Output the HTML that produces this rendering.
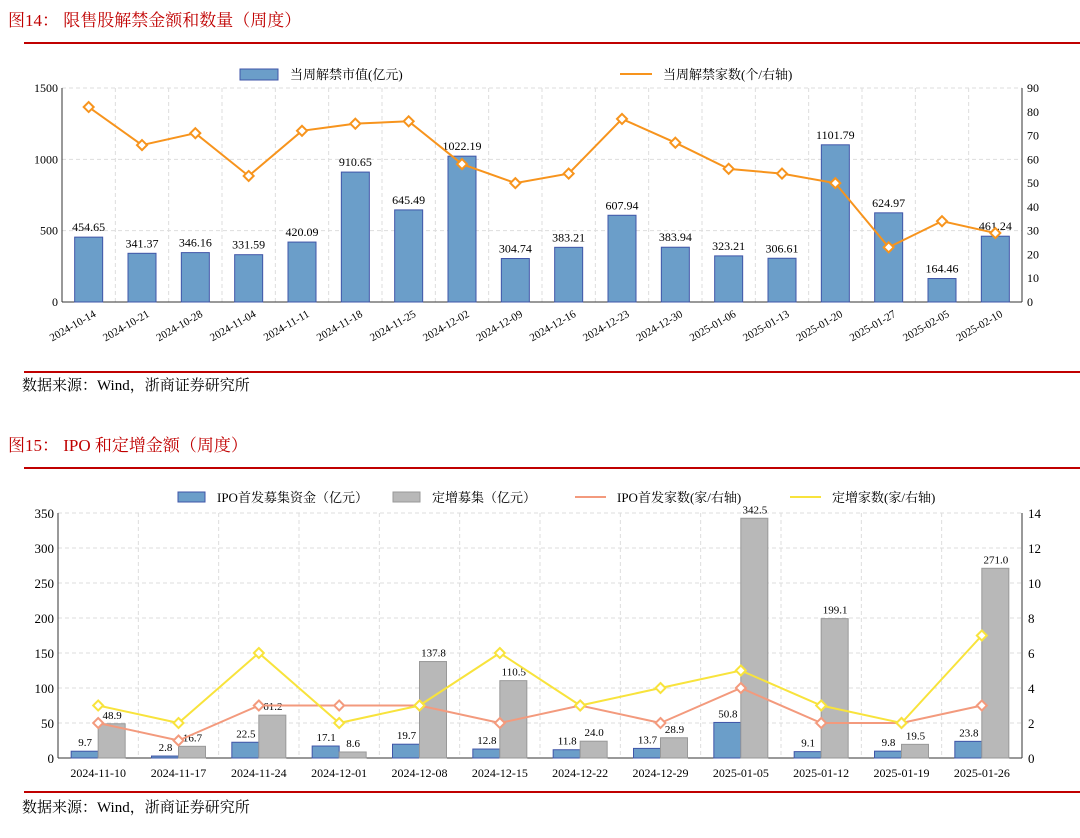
<!DOCTYPE html>
<html><head><meta charset="utf-8"><style>
body{margin:0;background:#fff;width:1080px;height:833px;overflow:hidden;font-family:"Liberation Serif","Noto Serif CJK SC",serif}
svg text{font-family:"Liberation Serif","Noto Serif CJK SC",serif}
</style></head><body>
<svg id="s" width="1080" height="833">
<text x="8" y="26" font-size="17" fill="#c00000">图14：  限售股解禁金额和数量（周度）</text>
<line x1="24" y1="43" x2="1080" y2="43" stroke="#c00000" stroke-width="2"/>
<line x1="24" y1="372" x2="1080" y2="372" stroke="#c00000" stroke-width="2"/>
<text x="22" y="390" font-size="15" fill="#000">数据来源：Wind，浙商证券研究所</text>
<text x="8" y="451" font-size="17" fill="#c00000">图15：  IPO 和定增金额（周度）</text>
<line x1="24" y1="468" x2="1080" y2="468" stroke="#c00000" stroke-width="2"/>
<line x1="24" y1="792" x2="1080" y2="792" stroke="#c00000" stroke-width="2"/>
<text x="22" y="812" font-size="15" fill="#000">数据来源：Wind，浙商证券研究所</text>
<g id="c1"></g>
<g id="c2"></g>
</svg>
<script>
const cats1=["2024-10-14","2024-10-21","2024-10-28","2024-11-04","2024-11-11","2024-11-18","2024-11-25","2024-12-02","2024-12-09","2024-12-16","2024-12-23","2024-12-30","2025-01-06","2025-01-13","2025-01-20","2025-01-27","2025-02-05","2025-02-10"];
const value1=[454.65,341.37,346.16,331.59,420.09,910.65,645.49,1022.19,304.74,383.21,607.94,383.94,323.21,306.61,1101.79,624.97,164.46,461.24];
const count1=[82,66,71,53,72,75,76,58,50,54,77,67,56,54,50,23,34,29];
const leftTicks1=[0,500,1000,1500];
const rightTicks1=[0,10,20,30,40,50,60,70,80,90];
const cats2=["2024-11-10","2024-11-17","2024-11-24","2024-12-01","2024-12-08","2024-12-15","2024-12-22","2024-12-29","2025-01-05","2025-01-12","2025-01-19","2025-01-26"];
const ipoAmt=[9.7,2.8,22.5,17.1,19.7,12.8,11.8,13.7,50.8,9.1,9.8,23.8];
const pipeAmt=[48.9,16.7,61.2,8.6,137.8,110.5,24.0,28.9,342.5,199.1,19.5,271.0];
const ipoCnt=[2,1,3,3,3,2,3,2,4,2,2,3];
const pipeCnt=[3,2,6,2,3,6,3,4,5,3,2,7];
const leftTicks2=[0,50,100,150,200,250,300,350];
const rightTicks2=[0,2,4,6,8,10,12,14];
const NS="http://www.w3.org/2000/svg";
function mk(p,t,a,txt){const e=document.createElementNS(NS,t);for(const k in a)e.setAttribute(k,a[k]);if(txt!=null)e.textContent=txt;p.appendChild(e);return e;}
function diamond(g,x,y,c){return mk(g,"path",{d:`M${x} ${y-5}L${x+5} ${y}L${x} ${y+5}L${x-5} ${y}Z`,fill:"#fff",stroke:c,"stroke-width":2});}

// chart 1
(function(){
const g=document.getElementById("c1");
const L=62,R=1022,T=88,B=302,n=cats1.length,bw=(R-L)/n;
const y=v=>B-(v/1500)*(B-T), yr=v=>B-(v/90)*(B-T), xc=i=>L+bw*(i+0.5);
for(let i=1;i<n;i++){const l=mk(g,"line",{x1:L+bw*i,x2:L+bw*i,y1:T,y2:B,stroke:"#ddd","stroke-dasharray":"4 3"});}
leftTicks1.forEach(v=>{const l=mk(g,"line",{x1:L,x2:R,y1:y(v),y2:y(v),stroke:"#ddd","stroke-dasharray":"4 3"});
const t=mk(g,"text",{x:L-4,y:y(v)+4,"font-size":12,"text-anchor":"end"},v);});
rightTicks1.forEach(v=>{const t=mk(g,"text",{x:R+5,y:yr(v)+4,"font-size":12},v);});
mk(g,"line",{x1:L,x2:L,y1:T,y2:B,stroke:"#333"});mk(g,"line",{x1:R,x2:R,y1:T,y2:B,stroke:"#333"});mk(g,"line",{x1:L,x2:R,y1:B,y2:B,stroke:"#333"});
value1.forEach((v,i)=>{const r=mk(g,"rect",{x:xc(i)-14,y:y(v),width:28,height:B-y(v),fill:"#6b9ec9",stroke:"#3f55a8","stroke-width":1});

const t=mk(g,"text",{x:xc(i),y:y(v)-6,"font-size":12,"text-anchor":"middle"},v.toFixed(2));
const lb=mk(g,"text",{x:xc(i)+8,y:B+14,"font-size":11,"text-anchor":"end",transform:`rotate(-30 ${xc(i)+8} ${B+14})`},cats1[i]);});
const pl=mk(g,"polyline",{points:count1.map((v,i)=>xc(i)+","+yr(v)).join(" "),fill:"none",stroke:"#f7941d","stroke-width":2});

count1.forEach((v,i)=>{const d=diamond(g,xc(i),yr(v),"#f7941d");});
const lg=mk(g,"g",{});
const s1=mk(lg,"rect",{x:240,y:69,width:38,height:11,fill:"#6b9ec9",stroke:"#3f55a8"});
const t1=mk(lg,"text",{x:290,y:79,"font-size":13},"当周解禁市值(亿元)");
const s2=mk(lg,"line",{x1:620,x2:652,y1:74,y2:74,stroke:"#f7941d","stroke-width":2});
const t2=mk(lg,"text",{x:663,y:79,"font-size":13},"当周解禁家数(个/右轴)");
})();

// chart 2
(function(){
const g=document.getElementById("c2");
const L=58,R=1022,T=513,B=758,n=cats2.length,bw=(R-L)/n;
const y=v=>B-(v/350)*(B-T), yr=v=>B-(v/14)*(B-T), xc=i=>L+bw*(i+0.5);
for(let i=1;i<n;i++){const l=mk(g,"line",{x1:L+bw*i,x2:L+bw*i,y1:T,y2:B,stroke:"#ddd","stroke-dasharray":"4 3"});}
leftTicks2.forEach(v=>{const l=mk(g,"line",{x1:L,x2:R,y1:y(v),y2:y(v),stroke:"#ddd","stroke-dasharray":"4 3"});
const t=mk(g,"text",{x:L-4,y:y(v)+5,"font-size":13,"text-anchor":"end"},v);});
rightTicks2.forEach(v=>{const t=mk(g,"text",{x:R+6,y:yr(v)+5,"font-size":13},v);});
mk(g,"line",{x1:L,x2:L,y1:T,y2:B,stroke:"#333"});mk(g,"line",{x1:R,x2:R,y1:T,y2:B,stroke:"#333"});mk(g,"line",{x1:L,x2:R,y1:B,y2:B,stroke:"#333"});
cats2.forEach((c,i)=>{
const a=ipoAmt[i],b=pipeAmt[i];
const r1=mk(g,"rect",{x:xc(i)-27,y:y(a),width:27,height:B-y(a),fill:"#6b9ec9",stroke:"#3f55a8"});
const r2=mk(g,"rect",{x:xc(i),y:y(b),width:27,height:B-y(b),fill:"#b8b8b8",stroke:"#999"});
const t1=mk(g,"text",{x:xc(i)-13,y:y(a)-5,"font-size":11,"text-anchor":"middle"},a.toFixed(1));
const t2=mk(g,"text",{x:xc(i)+14,y:y(b)-5,"font-size":11,"text-anchor":"middle"},b.toFixed(1));
const lb=mk(g,"text",{x:xc(i),y:B+19,"font-size":12,"text-anchor":"middle"},c);});
[[ipoCnt,"#f39a7d","ipo-count"],[pipeCnt,"#f8e33c","pipe-count"]].forEach(([d,c,nm])=>{
const pl=mk(g,"polyline",{points:d.map((v,i)=>xc(i)+","+yr(v)).join(" "),fill:"none",stroke:c,"stroke-width":2});

d.forEach((v,i)=>{const p=diamond(g,xc(i),yr(v),c);});});
const lg=mk(g,"g",{});
const a1=mk(lg,"rect",{x:178,y:492,width:27,height:10,fill:"#6b9ec9",stroke:"#3f55a8"});
const b1=mk(lg,"text",{x:217,y:502,"font-size":13},"IPO首发募集资金（亿元）");
const a2=mk(lg,"rect",{x:393,y:492,width:27,height:10,fill:"#b8b8b8",stroke:"#999"});
const b2=mk(lg,"text",{x:432,y:502,"font-size":13},"定增募集（亿元）");
const a3=mk(lg,"line",{x1:575,x2:606,y1:497,y2:497,stroke:"#f39a7d","stroke-width":2});
const b3=mk(lg,"text",{x:617,y:502,"font-size":13},"IPO首发家数(家/右轴)");
const a4=mk(lg,"line",{x1:790,x2:821,y1:497,y2:497,stroke:"#f8e33c","stroke-width":2});
const b4=mk(lg,"text",{x:832,y:502,"font-size":13},"定增家数(家/右轴)");
})();
</script>
</body></html>
